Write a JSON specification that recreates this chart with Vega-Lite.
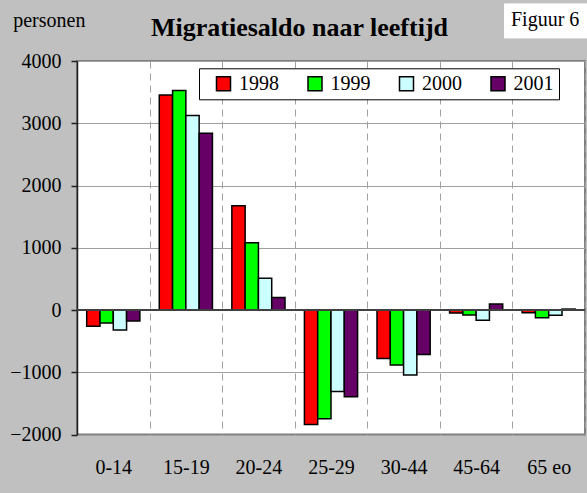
{
  "$schema": "https://vega.github.io/schema/vega-lite/v6.json",
  "width": 508,
  "height": 373.5,
  "autosize": "none",
  "padding": {"left": 77, "top": 61, "right": 2, "bottom": 58.5},
  "background": "#C0C0C0",
  "config": {
    "font": "Liberation Serif",
    "axis": {"labelFont": "Liberation Serif", "titleFont": "Liberation Serif"},
    "legend": {"labelFont": "Liberation Serif", "titleFont": "Liberation Serif"},
    "view": {"fill": "white", "stroke": "#808080", "strokeWidth": 2}
  },
  "data": {
    "values": [
      {"leeftijd": "0-14", "jaar": "1998", "saldo": -260},
      {"leeftijd": "0-14", "jaar": "1999", "saldo": -210},
      {"leeftijd": "0-14", "jaar": "2000", "saldo": -320},
      {"leeftijd": "0-14", "jaar": "2001", "saldo": -175},
      {"leeftijd": "15-19", "jaar": "1998", "saldo": 3455},
      {"leeftijd": "15-19", "jaar": "1999", "saldo": 3525},
      {"leeftijd": "15-19", "jaar": "2000", "saldo": 3125},
      {"leeftijd": "15-19", "jaar": "2001", "saldo": 2840},
      {"leeftijd": "20-24", "jaar": "1998", "saldo": 1675},
      {"leeftijd": "20-24", "jaar": "1999", "saldo": 1080},
      {"leeftijd": "20-24", "jaar": "2000", "saldo": 510},
      {"leeftijd": "20-24", "jaar": "2001", "saldo": 200},
      {"leeftijd": "25-29", "jaar": "1998", "saldo": -1840},
      {"leeftijd": "25-29", "jaar": "1999", "saldo": -1745},
      {"leeftijd": "25-29", "jaar": "2000", "saldo": -1310},
      {"leeftijd": "25-29", "jaar": "2001", "saldo": -1395},
      {"leeftijd": "30-44", "jaar": "1998", "saldo": -780},
      {"leeftijd": "30-44", "jaar": "1999", "saldo": -885},
      {"leeftijd": "30-44", "jaar": "2000", "saldo": -1045},
      {"leeftijd": "30-44", "jaar": "2001", "saldo": -715},
      {"leeftijd": "45-64", "jaar": "1998", "saldo": -50},
      {"leeftijd": "45-64", "jaar": "1999", "saldo": -80},
      {"leeftijd": "45-64", "jaar": "2000", "saldo": -165},
      {"leeftijd": "45-64", "jaar": "2001", "saldo": 95},
      {"leeftijd": "65 eo", "jaar": "1998", "saldo": -45},
      {"leeftijd": "65 eo", "jaar": "1999", "saldo": -125},
      {"leeftijd": "65 eo", "jaar": "2000", "saldo": -85},
      {"leeftijd": "65 eo", "jaar": "2001", "saldo": 15}
    ]
  },
  "layer": [
    {
      "mark": {"type": "bar", "stroke": "black", "strokeWidth": 1.5},
      "encoding": {
        "x": {
          "field": "leeftijd",
          "type": "nominal",
          "sort": ["0-14", "15-19", "20-24", "25-29", "30-44", "45-64", "65 eo"],
          "scale": {"paddingInner": 0, "paddingOuter": 0},
          "axis": {
            "title": "Migratiesaldo naar leeftijd",
            "titleX": 222,
            "titleY": -399.5,
            "titleAlign": "center",
            "titleBaseline": "alphabetic",
            "titleFont": "Liberation Serif",
            "titleFontSize": 26,
            "titleFontWeight": "bold",
            "titleColor": "black",
            "labelAngle": 0,
            "labelFont": "Liberation Serif",
            "labelFontSize": 20,
            "labelColor": "black",
            "labelBaseline": "alphabetic",
            "labelPadding": 38.5,
            "ticks": false,
            "tickSize": 0,
            "domain": false,
            "grid": true,
            "tickBand": "extent",
            "gridDash": [7, 5],
            "gridColor": "#A0A0A0",
            "gridWidth": 1
          }
        },
        "xOffset": {
          "field": "jaar",
          "type": "nominal",
          "scale": {"paddingInner": 0, "paddingOuter": 0.73}
        },
        "y": {
          "field": "saldo",
          "type": "quantitative",
          "scale": {"domain": [-2000, 4000], "nice": false},
          "axis": {
            "values": [-2000, -1500, -1000, -500, 0, 500, 1000, 1500, 2000, 2500, 3000, 3500, 4000],
            "format": "d",
            "title": "personen",
            "titleAngle": 0,
            "titleX": -64.3,
            "titleY": -35,
            "titleAlign": "left",
            "titleBaseline": "alphabetic",
            "titleFont": "Liberation Serif",
            "titleFontSize": 20,
            "titleFontWeight": "normal",
            "titleColor": "black",
            "labelFont": "Liberation Serif",
            "labelFontSize": 20,
            "labelColor": "black",
            "labelPadding": 10,
            "labelFlush": false,
            "labelOverlap": false,
            "tickSize": 6,
            "tickColor": "#202020",
            "tickWidth": 1.5,
            "domainColor": "#202020",
            "domainWidth": 1.5,
            "grid": true,
            "gridColor": "#A0A0A0",
            "gridWidth": 1
          }
        },
        "color": {
          "field": "jaar",
          "type": "nominal",
          "scale": {
            "domain": ["1998", "1999", "2000", "2001"],
            "range": ["#FF0000", "#00FF00", "#CCFFFF", "#660066"]
          },
          "legend": {
            "orient": "none",
            "legendX": 122,
            "legendY": 7.3,
            "direction": "horizontal",
            "columns": 4,
            "title": " ",
            "titleOrient": "left",
            "titleFontSize": 20,
            "titlePadding": 9,
            "fillColor": "white",
            "strokeColor": "black",
            "padding": 5.5,
            "columnPadding": 25.5,
            "symbolType": "square",
            "symbolSize": 196,
            "symbolStrokeColor": "black",
            "symbolStrokeWidth": 1.5,
            "symbolOpacity": 1,
            "labelOffset": 5.5,
            "labelFont": "Liberation Serif",
            "labelFontSize": 20,
            "labelColor": "black",
            "labelExpr": "datum.label + '  '"
          }
        }
      }
    },
    {
      "data": {"values": [{"saldo": 0}]},
      "mark": {"type": "rule", "color": "#404040", "strokeWidth": 2},
      "encoding": {
        "y": {"field": "saldo", "type": "quantitative"},
        "strokeDash": {
          "datum": "Figuur 6",
          "legend": {
            "orient": "none",
            "legendX": 427,
            "legendY": -57.6,
            "title": null,
            "fillColor": "white",
            "strokeColor": "white",
            "padding": 7,
            "symbolType": "square",
            "symbolSize": 1,
            "symbolStrokeWidth": 0,
            "symbolOpacity": 0,
            "labelOffset": -20,
            "labelFont": "Liberation Serif",
            "labelFontSize": 20,
            "labelColor": "black"
          }
        }
      }
    }
  ]
}
